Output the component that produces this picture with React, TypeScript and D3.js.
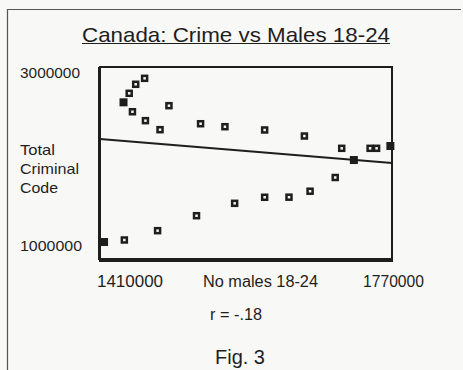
import React from "react";
import * as d3 from "d3";

// Number of males aged 18-24 (x) and total Criminal Code offences (y)
const males = [
  1415000, 1440000, 1481000, 1529000, 1576000, 1613000, 1643000, 1669000,
  1700000, 1723000, 1768000, 1751000, 1743000, 1708000, 1662000, 1613000,
  1564000, 1534000, 1495000, 1484000, 1466000, 1450000, 1439000, 1446000,
  1454000, 1465000,
];
const crimes = [
  1177000, 1198000, 1295000, 1451000, 1580000, 1643000, 1644000, 1706000,
  1849000, 2031000, 2177000, 2153000, 2153000, 2153000, 2281000, 2344000,
  2378000, 2409000, 2597000, 2347000, 2441000, 2534000, 2632000, 2726000,
  2820000, 2882000,
];
// Points drawn over one another, shown as solid marks
const stacked = [0, 9, 10, 22];

// Least-squares fit line, at the two ends of the x range
const fitX = [1410000, 1770000];
const fitY = [2250000, 2000000];

const xTicks = ["1410000", "1770000"];
const yTicks = ["3000000", "1000000"];
const title = "Canada: Crime vs Males 18-24";
const xTitle = "No males 18-24";
const yTitle = ["Total", "Criminal", "Code"];
const rLabel = "r = -.18";
const caption = "Fig. 3";

const W = 463;
const H = 370;
const plot = { left: 100, top: 67, right: 392, bottom: 259 };
const font = "'Liberation Sans', Arial, sans-serif";
const ink = "#1e1e1e";
const paper = "#f8f8f7";

export default function App() {
  const x = d3.scaleLinear().domain([1410000, 1770000]).range([plot.left, plot.right]);
  const y = d3.scaleLinear().domain([1000000, 3000000]).range([plot.bottom, plot.top]);
  const fitLine = d3
    .line<number>()
    .x((d) => x(d))
    .y((_, i) => y(fitY[i]));

  const label = (
    txt: string,
    px: number,
    py: number,
    size: number,
    len: number,
    anchor: "start" | "middle" | "end" = "start"
  ) => (
    <text
      x={px}
      y={py}
      fontSize={size}
      textAnchor={anchor}
      textLength={len}
      lengthAdjust="spacingAndGlyphs"
      fill={ink}
    >
      {txt}
    </text>
  );

  return (
    <svg
      width={W}
      height={H}
      viewBox={`0 0 ${W} ${H}`}
      style={{ position: "absolute", left: 0, top: 0, background: paper }}
      fontFamily={font}
    >
      {/* frame edges */}
      <line x1={7.5} y1={9} x2={7.5} y2={H} stroke="#555" strokeWidth={1.2} />
      <line x1={7} y1={9.5} x2={461} y2={9.5} stroke="#555" strokeWidth={1.2} />

      {/* title */}
      {label(title, 82, 42, 21, 308)}
      <line x1={82} y1={43.5} x2={390} y2={43.5} stroke={ink} strokeWidth={1.2} />

      {/* plot box */}
      <rect
        x={plot.left}
        y={plot.top}
        width={plot.right - plot.left}
        height={plot.bottom - plot.top}
        fill="none"
        stroke={ink}
        strokeWidth={2}
      />
      <line x1={plot.left - 1} y1={plot.top} x2={plot.left - 1} y2={plot.bottom + 1} stroke={ink} strokeWidth={2} />
      <line x1={plot.left - 1} y1={plot.bottom + 1.5} x2={plot.right + 1} y2={plot.bottom + 1.5} stroke={ink} strokeWidth={3} />

      {/* fit line */}
      <path d={fitLine(fitX) ?? ""} fill="none" stroke={ink} strokeWidth={2} />

      {/* points */}
      {males.map((m, i) =>
        stacked.includes(i) ? (
          <rect key={i} x={x(m) - 4} y={y(crimes[i]) - 4} width={8} height={8} fill={ink} />
        ) : (
          <rect
            key={i}
            x={x(m) - 2.5}
            y={y(crimes[i]) - 2.5}
            width={5}
            height={5}
            fill={paper}
            stroke={ink}
            strokeWidth={2.5}
          />
        )
      )}

      {/* y labels */}
      {label(yTicks[0], 20, 78, 15, 60)}
      {label(yTicks[1], 20, 251, 15, 62)}
      {yTitle.map((t, i) => (
        <React.Fragment key={t}>
          {label(t, 20, 155 + i * 19, 15, [35, 59, 38][i])}
        </React.Fragment>
      ))}

      {/* x labels */}
      {label(xTicks[0], 97, 287, 16, 66)}
      {label(xTitle, 203, 287, 16, 115)}
      {label(xTicks[1], 363, 287, 16, 61)}

      {label(rLabel, 210, 320, 16, 52)}
      {label(caption, 215, 364, 20, 50)}
    </svg>
  );
}
